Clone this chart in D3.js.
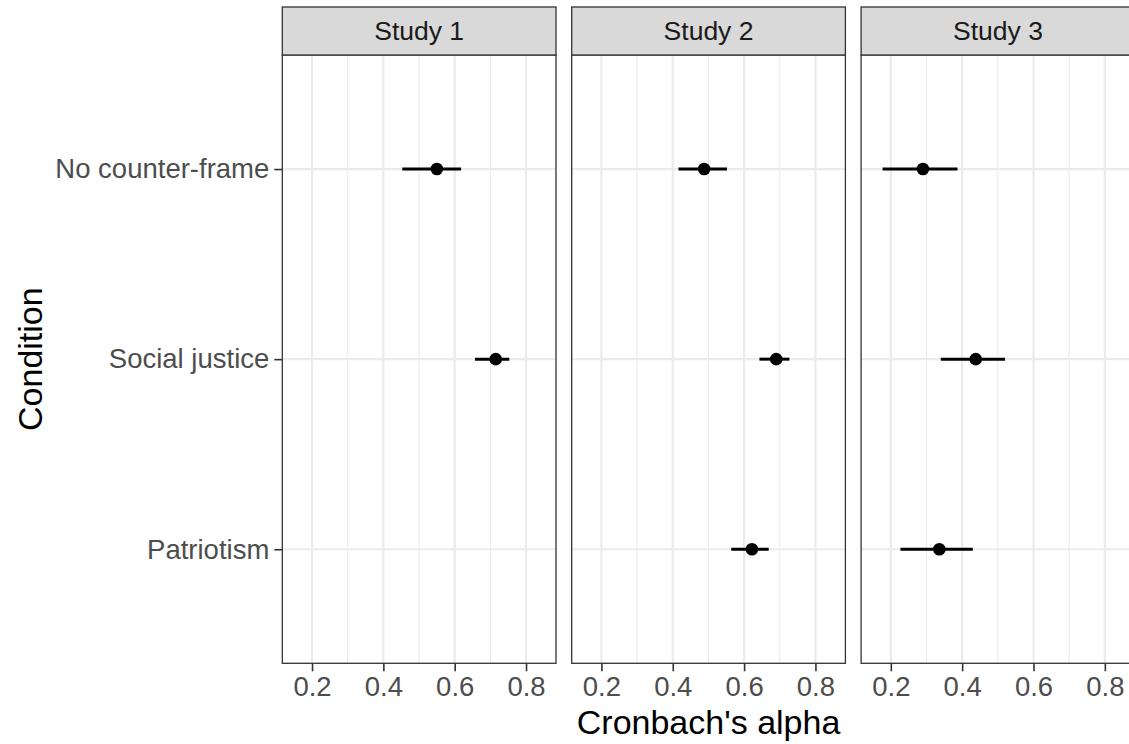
<!DOCTYPE html>
<html>
<head>
<meta charset="utf-8">
<script src="https://cdn.jsdelivr.net/npm/d3@7"></script>
<style>
  html, body { margin: 0; padding: 0; background: #fff; overflow: hidden; }
  svg { display: block; font-family: "Liberation Sans", Arial, sans-serif; }
</style>
</head>
<body>
<svg id="chart" width="1129" height="744"></svg>
<script>
// ---- data ----
const studies = ["Study 1", "Study 2", "Study 3"];
const conditions = ["No counter-frame", "Social justice", "Patriotism"];
// Cronbach's alpha estimates (null = not available), per study, in condition order
const alphaStudy1 = [0.55, 0.715, null];
const alphaStudy2 = [0.488, 0.690, 0.622];
const alphaStudy3 = [0.290, 0.438, 0.336];
// lower / upper interval bounds
const lowStudy1 = [0.453, 0.657, null];
const highStudy1 = [0.618, 0.753, null];
const lowStudy2 = [0.416, 0.643, 0.564];
const highStudy2 = [0.552, 0.727, 0.669];
const lowStudy3 = [0.177, 0.340, 0.227];
const highStudy3 = [0.387, 0.520, 0.430];
const xTicks = [0.2, 0.4, 0.6, 0.8];
const xMinor = [0.3, 0.5, 0.7];

const est = [alphaStudy1, alphaStudy2, alphaStudy3];
const lo = [lowStudy1, lowStudy2, lowStudy3];
const hi = [highStudy1, highStudy2, highStudy3];

// ---- layout ----
const svg = d3.select("#chart");
const panelLeft0 = 282.3, panelW = 273.7, gap = 15.7;
const stripTop = 7, stripBottom = 55, plotBottom = 663.3;
const fs = 26.5, fsAxis = 27.5, fsTitle = 34;

const x = d3.scaleLinear().domain([0.1167, 0.884]).range([0, panelW]);
const y = d3.scalePoint().domain(conditions).range([stripBottom, plotBottom]).padding(0.6);

studies.forEach((s, i) => {
  const left = panelLeft0 + i * (panelW + gap);
  const g = svg.append("g").attr("transform", `translate(${left},0)`);

  g.append("rect").attr("x", 0).attr("y", stripBottom).attr("width", panelW)
    .attr("height", plotBottom - stripBottom).attr("fill", "#fff");

  g.selectAll("line.minor").data(xMinor).join("line")
    .attr("x1", d => x(d)).attr("x2", d => x(d))
    .attr("y1", stripBottom).attr("y2", plotBottom)
    .attr("stroke", "#ebebeb").attr("stroke-width", 1.1);
  g.selectAll("line.majx").data(xTicks).join("line")
    .attr("x1", d => x(d)).attr("x2", d => x(d))
    .attr("y1", stripBottom).attr("y2", plotBottom)
    .attr("stroke", "#ebebeb").attr("stroke-width", 2.2);
  g.selectAll("line.majy").data(conditions).join("line")
    .attr("x1", 0).attr("x2", panelW)
    .attr("y1", d => y(d)).attr("y2", d => y(d))
    .attr("stroke", "#ebebeb").attr("stroke-width", 2.2);

  const rows = conditions.map((c, j) => ({c, e: est[i][j], l: lo[i][j], h: hi[i][j]}))
    .filter(d => d.e !== null);
  g.selectAll("line.err").data(rows).join("line")
    .attr("x1", d => x(d.l)).attr("x2", d => x(d.h))
    .attr("y1", d => y(d.c)).attr("y2", d => y(d.c))
    .attr("stroke", "#000").attr("stroke-width", 3);
  g.selectAll("circle").data(rows).join("circle")
    .attr("cx", d => x(d.e)).attr("cy", d => y(d.c)).attr("r", 6.3)
    .attr("fill", "#000");

  g.append("rect").attr("x", 0).attr("y", stripBottom).attr("width", panelW)
    .attr("height", plotBottom - stripBottom).attr("fill", "none")
    .attr("stroke", "#333333").attr("stroke-width", 1.3);

  g.append("rect").attr("x", 0).attr("y", stripTop).attr("width", panelW)
    .attr("height", stripBottom - stripTop).attr("fill", "#d9d9d9")
    .attr("stroke", "#333333").attr("stroke-width", 1.3);
  g.append("text").attr("x", panelW / 2).attr("y", (stripTop + stripBottom) / 2)
    .attr("dy", "0.35em").attr("text-anchor", "middle")
    .attr("font-size", fs).attr("fill", "#1a1a1a").text(s);

  const xa = g.append("g").attr("transform", `translate(0,${plotBottom})`)
    .call(d3.axisBottom(x).tickValues(xTicks).tickFormat(d3.format(".1f")).tickSize(8).tickPadding(5));
  xa.select(".domain").remove();
  xa.selectAll(".tick line").attr("stroke", "#333333").attr("stroke-width", 1.6);
  xa.selectAll(".tick text").attr("font-size", fsAxis).attr("fill", "#4d4d4d")
    .attr("font-family", "Liberation Sans, Arial, sans-serif");

  if (i === 0) {
    const ya = g.append("g").call(d3.axisLeft(y).tickSize(8).tickPadding(5));
    ya.select(".domain").remove();
    ya.selectAll(".tick line").attr("stroke", "#333333").attr("stroke-width", 1.6);
    ya.selectAll(".tick text").attr("font-size", fsAxis).attr("fill", "#4d4d4d")
      .attr("font-family", "Liberation Sans, Arial, sans-serif");
  }
});

svg.append("text").attr("x", panelLeft0 + (3 * panelW + 2 * gap) / 2).attr("y", 722)
  .attr("dy", "0.35em").attr("text-anchor", "middle").attr("font-size", fsTitle)
  .attr("fill", "#000").text("Cronbach's alpha");
svg.append("text").attr("transform", `translate(30,${(stripBottom + plotBottom) / 2}) rotate(-90)`)
  .attr("dy", "0.35em").attr("text-anchor", "middle").attr("font-size", fsTitle)
  .attr("fill", "#000").text("Condition");
</script>
</body>
</html>
